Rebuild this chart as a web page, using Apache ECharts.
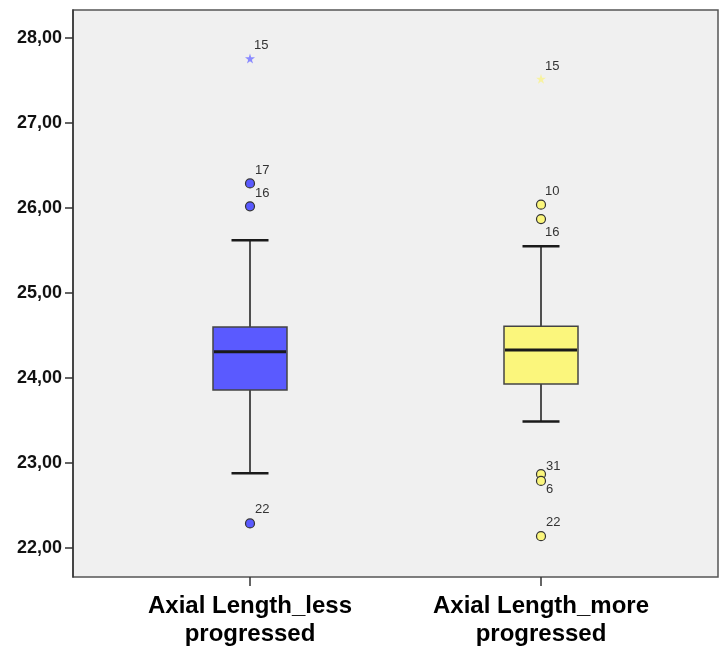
<!DOCTYPE html>
<html>
<head>
<meta charset="utf-8">
<title>Axial Length boxplot</title>
<script src="https://cdn.jsdelivr.net/npm/echarts@6/dist/echarts.min.js"></script>
<style>
  html, body { margin: 0; padding: 0; background: #fff; }
  #chart { width: 727px; height: 651px; }
</style>
</head>
<body>
<div id="chart"></div>
<script>
// groups
const categories = ['Axial Length_less\nprogressed', 'Axial Length_more\nprogressed']
const boxColors = ['#5a5aff', '#fbf67c']
const starColors = ['#8a8aff', '#f7f2a0']

// [lower whisker, Q1, median, Q3, upper whisker]
const boxLess = [22.88, 23.86, 24.31, 24.60, 25.62]
const boxMore = [23.49, 23.93, 24.33, 24.61, 25.55]

// outliers: [value, case number]
const outliersLess = [[26.29, '17'], [26.02, '16'], [22.29, '22']]
const outliersMore = [[26.04, '10'], [25.87, '16'], [22.87, '31'], [22.79, '6'], [22.14, '22']]
// extremes (stars)
const extremesLess = [[27.76, '15']]
const extremesMore = [[27.52, '15']]

const yTicks = [22, 23, 24, 25, 26, 27, 28]
const yMin = 21.66
const yMax = 28.33

// label offsets per case, so the numbers sit like the SPSS output
const labelOffsets = {
  '0-17': [5, -13], '0-16': [5, -13], '0-22': [5, -14], '0-15': [4, -13],
  '1-10': [4, -13], '1-16': [4, 13], '1-31': [5, -8], '1-6': [5, 8], '1-22': [5, -14], '1-15': [4, -12]
}

const FONT = "'Liberation Sans', Arial, sans-serif"
const STAR = 'path://M50,0 L61,35 L98,35 L68,57 L79,91 L50,70 L21,91 L32,57 L2,35 L39,35 Z'
const BOX_W = 74

function pointData (list, cat) {
  return list.map(p => ({
    value: [cat, p[0]],
    caseId: p[1],
    label: {offset: labelOffsets[cat + '-' + p[1]] || [5, -13]}
  }))
}

const labelStyle = {
  show: true, position: 'inside', align: 'left', verticalAlign: 'middle',
  fontFamily: FONT, fontSize: 13, color: '#333',
  formatter: p => p.data.caseId
}

// SPSS style box: grey edged box, black whiskers with half-width caps, thick median
function renderBox (params, api) {
  const cat = api.value(0)
  const lo = api.coord([cat, api.value(1)])
  const q1 = api.coord([cat, api.value(2)])
  const med = api.coord([cat, api.value(3)])
  const q3 = api.coord([cat, api.value(4)])
  const hi = api.coord([cat, api.value(5)])
  const x = lo[0]
  const hw = BOX_W / 2
  const cw = BOX_W / 4
  const line = (x1, y1, x2, y2, w) => ({
    type: 'line', shape: {x1, y1, x2, y2}, style: {stroke: '#1a1a1a', lineWidth: w}
  })
  return {
    type: 'group',
    children: [
      line(x, hi[1], x, q3[1], 1.5),
      line(x, q1[1], x, lo[1], 1.5),
      line(x - cw, hi[1], x + cw, hi[1], 2.5),
      line(x - cw, lo[1], x + cw, lo[1], 2.5),
      {
        type: 'rect',
        shape: {x: x - hw, y: q3[1], width: BOX_W, height: q1[1] - q3[1]},
        style: {fill: boxColors[params.dataIndex], stroke: '#444', lineWidth: 1.5}
      },
      line(x - hw + 1, med[1], x + hw - 1, med[1], 3)
    ]
  }
}

const myChart = echarts.init(document.getElementById('chart'), null, {renderer: 'canvas'})

const option = {
  animation: false,
  backgroundColor: '#fff',
  grid: [
    {left: 73, right: 9, top: 10, bottom: 74, show: true, backgroundColor: '#f0f0f0',
      borderColor: '#555', borderWidth: 1.5},
    {left: 104.5, right: 40.5, top: 10, bottom: 74}
  ],
  xAxis: [
    {type: 'value', gridIndex: 0, show: false},
    {
      type: 'category', gridIndex: 1, data: categories,
      axisLine: {show: false},
      axisTick: {show: true, alignWithLabel: true, length: 9, lineStyle: {color: '#333', width: 1.5}},
      axisLabel: {margin: 15, fontFamily: FONT, fontSize: 24, fontWeight: 'bold', color: '#000', lineHeight: 28},
      splitLine: {show: false}
    }
  ],
  yAxis: [
    {
      type: 'value', gridIndex: 0, min: yMin, max: yMax,
      axisLine: {show: true, lineStyle: {color: '#333', width: 1.5}},
      axisTick: {show: true, length: 8, customValues: yTicks, lineStyle: {color: '#333', width: 1.5}},
      axisLabel: {customValues: yTicks, margin: 11, fontFamily: FONT, fontSize: 18, fontWeight: 'bold',
        color: '#111', formatter: v => v.toFixed(2).replace('.', ',')},
      splitLine: {show: false}
    },
    {type: 'value', gridIndex: 1, min: yMin, max: yMax, show: false, splitLine: {show: false}}
  ],
  series: [
    {
      type: 'custom', xAxisIndex: 1, yAxisIndex: 1,
      data: [[0].concat(boxLess), [1].concat(boxMore)],
      encode: {x: 0, y: [1, 2, 3, 4, 5]},
      renderItem: renderBox
    },
    {
      type: 'scatter', xAxisIndex: 1, yAxisIndex: 1, symbol: 'circle', symbolSize: 9,
      itemStyle: {color: boxColors[0], borderColor: '#333', borderWidth: 1.2, opacity: 1},
      label: labelStyle, data: pointData(outliersLess, 0)
    },
    {
      type: 'scatter', xAxisIndex: 1, yAxisIndex: 1, symbol: 'circle', symbolSize: 9,
      itemStyle: {color: boxColors[1], borderColor: '#333', borderWidth: 1.2, opacity: 1},
      label: labelStyle, data: pointData(outliersMore, 1)
    },
    {
      type: 'scatter', xAxisIndex: 1, yAxisIndex: 1, symbol: STAR, symbolSize: 10,
      itemStyle: {color: starColors[0], opacity: 1},
      label: labelStyle, data: pointData(extremesLess, 0)
    },
    {
      type: 'scatter', xAxisIndex: 1, yAxisIndex: 1, symbol: STAR, symbolSize: 10,
      itemStyle: {color: starColors[1], opacity: 1},
      label: labelStyle, data: pointData(extremesMore, 1)
    }
  ]
}
myChart.setOption(option)
</script>
</body>
</html>
